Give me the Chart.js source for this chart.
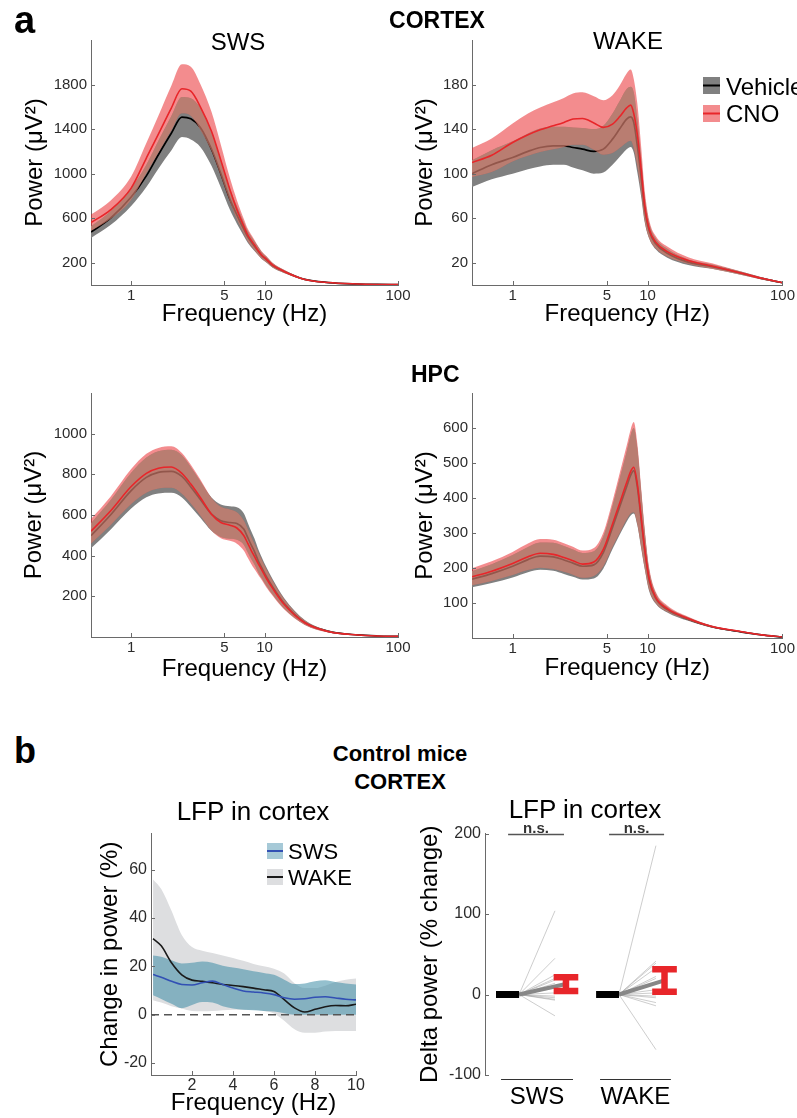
<!DOCTYPE html>
<html><head><meta charset="utf-8">
<script src="https://cdn.jsdelivr.net/npm/chart.js@4.4.1/dist/chart.umd.min.js"></script>
<style>
html,body{margin:0;padding:0;background:#fff;}
body{width:797px;height:1118px;position:relative;overflow:hidden;font-family:"Liberation Sans",Arial,sans-serif;}
#charts{position:absolute;left:0;top:0;width:797px;height:1118px;}
canvas{position:absolute;}
.t{position:absolute;line-height:1;white-space:nowrap;color:#000;}
.c{transform:translateX(-50%);}
</style></head><body>
<div id="charts"></div>
<div class="t" style="left:14px;top:1px;font-size:38px;font-weight:bold">a</div>
<div class="t c" style="left:437px;top:9px;font-size:23px;font-weight:bold">CORTEX</div>
<div class="t c" style="left:238px;top:30px;font-size:24px">SWS</div>
<div class="t c" style="left:628px;top:29px;font-size:24px">WAKE</div>
<div class="t" style="left:411px;top:363px;font-size:23px;font-weight:bold">HPC</div>
<div class="t" style="left:14px;top:733px;font-size:36px;font-weight:bold">b</div>
<div class="t c" style="left:400px;top:743px;font-size:22px;font-weight:bold">Control mice</div>
<div class="t c" style="left:400px;top:771px;font-size:22px;font-weight:bold">CORTEX</div>
<div class="t c" style="left:253px;top:798px;font-size:26px">LFP in cortex</div>
<div class="t c" style="left:585px;top:796px;font-size:26px">LFP in cortex</div>
<script>
// ================= DATA =================
// Panel a: power spectra (frequency grid, Hz)
const freqs = [0.5,0.7,1,1.3,1.6,2,2.4,2.8,3.3,4,4.7,5.5,6.2,7,7.5,7.9,8.4,9,9.5,10.3,11.5,14,20,30,50,70,100];
const freqTicks = [1,5,10,100];

// Cortex SWS
const ctxSwsVeh    = [475,600,790,980,1170,1363,1508,1492,1415,1220,1000,770,630,500,430,391,349,301,265,228,175,121,50,22,9,5,3];
const ctxSwsVehSem = [52,62,80,100,125,155,180,185,175,150,125,95,80,62,53,49,44,37,32,27,20,13,6,3,1,1,0.5];
const ctxSwsCno    = [560,675,870,1140,1355,1589,1762,1740,1600,1380,1120,855,677,526,446,405,360,305,270,232,178,122,50,22,9,5,3];
const ctxSwsCnoSem = [72,82,105,135,165,200,220,220,205,175,140,105,85,65,56,51,45,38,33,28,21,14,6,3,1,1,0.5];
const ctxSwsYTicks = [200,600,1000,1400,1800];

// Cortex WAKE
const ctxWakeVeh    = [100,108,114.5,120,123.5,125,125,123.5,122,120,122,131,140,149,151,146,125,95,69,48.5,37,28.5,20.5,16.5,10.5,6,2];
const ctxWakeVehSem = [12,13,14.5,16,17,17,17,18,19,20,21,23,25,27,27,27,24,17,12,7,5,4,2.5,2,1.5,1,0.5];
const ctxWakeCno    = [110,116.5,128,135,139.5,143,146,149,149.5,145.5,141.5,144.5,151,159,161.5,154,135,102,72.5,50,38.5,30,22,17,10.5,6,2];
const ctxWakeCnoSem = [13,15,17,19,20,21,22,23,23.5,24,24.5,26,28,31,32,31,28,20,14,8,5.5,4.5,3,2.5,1.5,1,0.5];
const ctxWakeYTicks = [20,60,100,140,180];

// HPC SWS
const hpcSwsVeh    = [498,600,720,785,810,815,790,738,676,604,572,563,558,530,487,455,420,372,342,298,246,166,72,28,10,5,3];
const hpcSwsVehSem = [62,72,88,98,104,106,104,98,90,82,80,80,80,77,73,69,64,57,52,46,38,26,12,5,2,1,0.5];
const hpcSwsCno    = [520,620,740,805,830,836,805,752,686,604,563,550,536,498,459,429,396,359,331,289,239,161,70,27,10,5,3];
const hpcSwsCnoSem = [60,70,86,96,100,102,100,95,88,80,77,77,77,74,71,67,62,55,50,44,36,25,11,5,2,1,0.5];
const hpcSwsYTicks = [200,400,600,800,1000];

// HPC WAKE
const hpcWakeVeh    = [168,184,205,224,234,232,223,214,205,209,244,316,374,432,465,478,432,333,255,163,113,81,54,32,17,9,3];
const hpcWakeVehSem = [23,27,32,36,39,40,40,39,38,39,46,62,80,100,115,122,110,80,55,30,15,8,5,3,2,1,0.5];
const hpcWakeCno    = [175,191,213,232,242,239,230,221,211,217,253,326,384,444,476,488,440,339,259,168,116,84,56,33,18,9,3];
const hpcWakeCnoSem = [24,28,33,38,41,42,41,40,39,40,48,65,85,105,120,129,115,82,57,31,16,9,5,3,2,1,0.5];
const hpcWakeYTicks = [100,200,300,400,500,600];

// Panel b left: change in power (%)
const freqB     = [0.1,0.5,1,1.5,2,2.5,3,3.5,4,4.5,5,5.5,6,6.5,7,7.5,8,8.5,9,9.5,10];
const wakeMean  = [31.5,28.5,21.5,16.5,14.3,13.8,13.2,12.5,12.1,11.6,11,10.3,9.6,6.2,2.8,1.1,2.2,3.3,3.8,3.7,4.3];
const wakeUpper = [56,52,43,33,28,26.5,25.5,24.5,23.5,22.3,21,20,19,17,13,11,11,12,13.5,14.5,15];
const wakeLower = [6,5,3.5,2.5,1.5,1.4,1.5,1.8,2,2,2,1.5,0.5,-2.5,-6,-7.5,-7.5,-7,-6.8,-6.8,-6.8];
const swsMean   = [16.6,15.5,13.8,12.5,12.3,13.2,13.9,12.5,11,9.8,9.4,9.0,8.3,7.0,6.4,6.6,7.2,7.4,6.9,6.4,6.1];
const swsUpper  = [24.5,24,22.5,21.2,21.5,22,21.5,20.3,19.5,18.8,18,17.3,16.5,14.5,12.7,12.9,13.8,14.2,13.5,12.9,12.5];
const swsLower  = [8,6.5,4.5,2.7,4,5.2,5,3.5,2.5,2,1.8,1.5,1.3,0.6,0,0,0,0,0,0,0];
const bXTicks = [2,4,6,8,10];
const bYTicks = [-20,0,20,40,60];

// Panel b right: delta power (% change) per mouse
const groups     = ['SWS','WAKE'];
const swsDelta   = [104,45,24.5,20,18,14,8,2,-2,-4,-6,-7,-26.5];
const wakeDelta  = [185,41.5,39,33,22.5,20,6,2,-2,-4,-10,-14,-68.5];
const groupMean  = [13,17.5];
const groupErr   = [8.5,14];
const deltaYTicks = [-100,0,100,200];

// ================= STYLE / LAYOUT =================
const FONT = '"Liberation Sans", Arial, sans-serif';
Chart.defaults.font.family = FONT;
const AX = '#6a6a6a', TXT = '#2b2b2b', RED = '#e8262a';
const VEH_BAND = 'rgb(128,128,128)';
const CNO_BAND = 'rgba(231,25,29,0.5)';
const OVL_TINT = 'rgba(193,198,165,0.4)';
const band = {pointRadius:0, borderColor:'transparent', borderWidth:1, tension:0};

function mk(box){
  const c = document.createElement('canvas');
  c.width = box.w; c.height = box.h;
  c.style.left = box.x+'px'; c.style.top = box.y+'px';
  c.style.width = box.w+'px'; c.style.height = box.h+'px';
  document.getElementById('charts').appendChild(c);
  return c;
}

const inTicks = {
  id:'inTicks',
  afterDatasetsDraw(chart){
    const {ctx, chartArea:a, scales} = chart;
    ctx.save(); ctx.strokeStyle = AX; ctx.lineWidth = 1;
    const len = 4;
    if (scales.x && scales.x.options.display !== false) {
      for (const t of scales.x.ticks) {
        const px = Math.round(scales.x.getPixelForValue(t.value)) + 0.5;
        ctx.beginPath(); ctx.moveTo(px, a.bottom); ctx.lineTo(px, a.bottom - len); ctx.stroke();
      }
    }
    for (const t of scales.y.ticks) {
      const py = Math.round(scales.y.getPixelForValue(t.value)) + 0.5;
      ctx.beginPath(); ctx.moveTo(a.left, py); ctx.lineTo(a.left + len, py); ctx.stroke();
    }
    ctx.restore();
  }
};

function legendPlugin(box, items, size){
  return {id:'lg', afterDraw(chart){
    const ctx = chart.ctx; ctx.save();
    for (const it of items){
      const x = it.x - box.x, y = it.y - box.y;
      ctx.fillStyle = it.fill; ctx.fillRect(x, y, it.w, it.h);
      ctx.strokeStyle = it.line; ctx.lineWidth = 2;
      ctx.beginPath(); ctx.moveTo(x, y + it.h/2); ctx.lineTo(x + it.w, y + it.h/2); ctx.stroke();
      ctx.fillStyle = '#000'; ctx.font = size + 'px ' + FONT; ctx.textBaseline = 'alphabetic';
      ctx.fillText(it.label, it.tx - box.x, it.base - box.y);
    }
    ctx.restore();
  }};
}

function yScale(box, area, min, max, ticks, title, tickSize, titlePad){
  return {
    type:'linear', min, max,
    afterBuildTicks: s => { s.ticks = ticks.map(v => ({value:v})); },
    afterFit: s => { s.width = area.l - box.x; },
    grid:{display:false, drawTicks:false},
    border:{display:true, color:AX, width:1},
    ticks:{font:{size:tickSize}, color:TXT, padding:4, autoSkip:false, callback: v => String(v)},
    title:{display:true, text:title, color:'#000', font:{size:24}, padding:{top:titlePad, bottom:0}}
  };
}

function spectrum(box, area, yMax, yTicks, veh, vehSem, cno, cnoSem, xTitlePad, yTitlePad, plugins){
  const c = mk(box);
  const vU = veh.map((m, i) => m + vehSem[i]), vL = veh.map((m, i) => m - vehSem[i]);
  const cU = cno.map((m, i) => m + cnoSem[i]), cL = cno.map((m, i) => m - cnoSem[i]);
  const oU = vU.map((v, i) => Math.min(v, cU[i]));
  const oL = vL.map((v, i) => Math.min(Math.max(v, cL[i]), oU[i]));
  const pts = arr => freqs.map((f, i) => ({x:f, y:arr[i]}));
  return new Chart(c, {
    type:'line',
    data:{datasets:[
      {data:pts(vU), fill:'+1', backgroundColor:VEH_BAND, ...band, order:8},
      {data:pts(vL), fill:false, ...band, order:7},
      {data:pts(veh), fill:false, borderColor:'#000', borderWidth:1.7, pointRadius:0, order:6},
      {data:pts(cU), fill:'+1', backgroundColor:CNO_BAND, ...band, order:5},
      {data:pts(cL), fill:false, ...band, order:4},
      {data:pts(oU), fill:'+1', backgroundColor:OVL_TINT, ...band, order:3},
      {data:pts(oL), fill:false, ...band, order:2},
      {data:pts(cno), fill:false, borderColor:RED, borderWidth:1.6, pointRadius:0, order:1}
    ]},
    options:{
      responsive:false, animation:false, devicePixelRatio:1,
      layout:{padding:{top:area.t - box.y, right:box.x + box.w - area.r, left:0, bottom:0}},
      elements:{line:{cubicInterpolationMode:'monotone'}},
      plugins:{legend:{display:false}, tooltip:{enabled:false}},
      scales:{
        x:{type:'logarithmic', min:0.5, max:100,
          afterBuildTicks: s => { s.ticks = freqTicks.map(v => ({value:v})); },
          afterFit: s => { s.height = box.y + box.h - area.b; },
          grid:{display:false, drawTicks:false},
          border:{display:true, color:AX, width:1},
          ticks:{font:{size:15}, color:TXT, padding:2, maxRotation:0, autoSkip:false, callback: v => String(v)},
          title:{display:true, text:'Frequency (Hz)', color:'#000', font:{size:24}, padding:{top:0, bottom:xTitlePad}}
        },
        y: yScale(box, area, 0, yMax, yTicks, 'Power (\u03BCV\u00B2)', 15, yTitlePad)
      }
    },
    plugins:[inTicks].concat(plugins || [])
  });
}

// ---- Panel a ----
const b1 = {x:0, y:0, w:420, h:340},   a1 = {l:91, t:40, r:398, b:285};
const b2 = {x:390, y:0, w:407, h:340}, a2 = {l:472, t:40, r:783, b:285};
const b3 = {x:0, y:355, w:420, h:345}, a3 = {l:91, t:393, r:398, b:637};
const b4 = {x:390, y:355, w:407, h:345}, a4 = {l:472, t:393, r:783, b:638};

spectrum(b1, a1, 2200, ctxSwsYTicks, ctxSwsVeh, ctxSwsVehSem, ctxSwsCno, ctxSwsCnoSem, 11.6, 20.6);
spectrum(b2, a2, 220, ctxWakeYTicks, ctxWakeVeh, ctxWakeVehSem, ctxWakeCno, ctxWakeCnoSem, 11.6, 20.6, [
  legendPlugin(b2, [
    {x:703, y:77, w:17, h:17, fill:VEH_BAND, line:'#000', label:'Vehicle', tx:726, base:95},
    {x:703, y:105, w:17, h:17, fill:'rgb(243,140,142)', line:RED, label:'CNO', tx:726, base:122}
  ], 24)
]);
spectrum(b3, a3, 1200, hpcSwsYTicks, hpcSwsVeh, hpcSwsVehSem, hpcSwsCno, hpcSwsCnoSem, 16.6, 19.6);
spectrum(b4, a4, 700, hpcWakeYTicks, hpcWakeVeh, hpcWakeVehSem, hpcWakeCno, hpcWakeCnoSem, 17.6, 20.6);

// ---- Panel b left ----
(function(){
  const box = {x:70, y:820, w:350, h:298}, area = {l:151, t:830, r:356, b:1075};
  const xy = arr => freqB.map((f, i) => ({x:f, y:arr[i]}));
  new Chart(mk(box), {
    type:'line',
    data:{datasets:[
      {data:xy(wakeUpper), fill:'+1', backgroundColor:'rgb(221,222,224)', ...band, order:7},
      {data:xy(wakeLower), fill:false, ...band, order:6},
      {data:xy(swsUpper), fill:'+1', backgroundColor:'rgba(60,140,165,0.55)', ...band, order:5},
      {data:xy(swsLower), fill:false, ...band, order:4},
      {data:[{x:0,y:0},{x:10,y:0}], fill:false, borderColor:'#555', borderWidth:1.5, borderDash:[8,5], pointRadius:0, order:3},
      {data:xy(wakeMean), fill:false, borderColor:'#1a1a1a', borderWidth:1.6, pointRadius:0, order:2},
      {data:xy(swsMean), fill:false, borderColor:'rgb(50,80,180)', borderWidth:1.6, pointRadius:0, order:1}
    ]},
    options:{
      responsive:false, animation:false, devicePixelRatio:1,
      layout:{padding:{top:area.t - box.y, right:box.x + box.w - area.r, left:0, bottom:0}},
      elements:{line:{cubicInterpolationMode:'monotone'}},
      plugins:{legend:{display:false}, tooltip:{enabled:false}},
      scales:{
        x:{type:'linear', min:0, max:10,
          afterBuildTicks: s => { s.ticks = bXTicks.map(v => ({value:v})); },
          afterFit: s => { s.height = box.y + box.h - area.b; },
          grid:{display:false, drawTicks:false},
          border:{display:true, color:AX, width:1},
          ticks:{font:{size:16}, color:TXT, padding:1, maxRotation:0, autoSkip:false, callback: v => String(v)},
          title:{display:true, text:'Frequency (Hz)', color:'#000', font:{size:24}, padding:{top:0, bottom:0}}
        },
        y: yScale(box, area, -25, 75, bYTicks, 'Change in power (%)', 16, 25.6)
      }
    },
    plugins:[inTicks, legendPlugin(box, [
      {x:267, y:843, w:16, h:16, fill:'rgb(166,201,215)', line:'rgb(50,80,180)', label:'SWS', tx:288, base:859},
      {x:267, y:869, w:16, h:16, fill:'rgb(221,222,224)', line:'#1a1a1a', label:'WAKE', tx:288, base:885}
    ], 22)]
  });
})();

// ---- Panel b right ----
(function(){
  const box = {x:400, y:820, w:397, h:298}, area = {l:485, t:831, r:705, b:1075};
  // horizontal plotting positions (x scale 0..100), layout only
  const P = {
    vehBar:[[5,15.5],[50.5,60.9]],
    lineStart:[15.5,60.9],
    lineEnd:[31.8,77.7],
    errX:[36.8,81.6],
    capHalf:5.6,
    catLine:[[7.3,40],[52.3,84.5]],
    nsLine:[[10.5,35.9],[56.4,81.4]]
  };
  const deltas = [swsDelta, wakeDelta];
  const indiv = [], vehBars = [], meanLines = [], errBars = [];
  deltas.forEach((arr, g) => {
    arr.forEach(v => { indiv.push({x:P.lineStart[g], y:0}, {x:P.lineEnd[g], y:v}, {x:P.lineEnd[g], y:null}); });
    vehBars.push({x:P.vehBar[g][0], y:0}, {x:P.vehBar[g][1], y:0}, {x:P.vehBar[g][1], y:null});
    meanLines.push({x:P.lineStart[g], y:0}, {x:P.errX[g], y:groupMean[g]}, {x:P.errX[g], y:null});
    const hi = groupMean[g] + groupErr[g], lo = groupMean[g] - groupErr[g], cx = P.errX[g], h = P.capHalf;
    errBars.push({x:cx-h, y:hi}, {x:cx+h, y:hi}, {x:cx, y:null},
                 {x:cx, y:hi}, {x:cx, y:lo}, {x:cx, y:null},
                 {x:cx-h, y:lo}, {x:cx+h, y:lo}, {x:cx+h, y:null});
  });
  const annot = {
    id:'annot6',
    afterDraw(chart){
      const {ctx, scales:{x, y}, chartArea:a} = chart;
      ctx.save();
      groups.forEach((name, g) => {
        const ny = Math.round(y.getPixelForValue(200)) + 0.5;
        ctx.strokeStyle = '#555'; ctx.lineWidth = 1.5;
        ctx.beginPath(); ctx.moveTo(x.getPixelForValue(P.nsLine[g][0]), ny); ctx.lineTo(x.getPixelForValue(P.nsLine[g][1]), ny); ctx.stroke();
        ctx.fillStyle = '#333'; ctx.font = 'bold 15px ' + FONT; ctx.textAlign = 'center'; ctx.textBaseline = 'alphabetic';
        ctx.fillText('n.s.', x.getPixelForValue((P.nsLine[g][0] + P.nsLine[g][1]) / 2), ny - 1.5);
        const cy = a.bottom + 4.5;
        ctx.strokeStyle = '#333'; ctx.lineWidth = 1;
        ctx.beginPath(); ctx.moveTo(x.getPixelForValue(P.catLine[g][0]), cy); ctx.lineTo(x.getPixelForValue(P.catLine[g][1]), cy); ctx.stroke();
        ctx.fillStyle = '#000'; ctx.font = '24px ' + FONT;
        ctx.fillText(name, x.getPixelForValue((P.catLine[g][0] + P.catLine[g][1]) / 2), a.bottom + 29);
      });
      ctx.restore();
    }
  };
  new Chart(mk(box), {
    type:'line',
    data:{datasets:[
      {data:indiv, borderColor:'rgba(150,150,150,0.6)', borderWidth:0.8, pointRadius:0, spanGaps:false, order:4},
      {data:meanLines, borderColor:'rgb(135,135,135)', borderWidth:4, pointRadius:0, spanGaps:false, order:3},
      {data:vehBars, borderColor:'#000', borderWidth:7, pointRadius:0, spanGaps:false, order:2},
      {data:errBars, borderColor:RED, borderWidth:6.5, pointRadius:0, spanGaps:false, order:1, borderCapStyle:'butt'}
    ]},
    options:{
      responsive:false, animation:false, devicePixelRatio:1,
      layout:{padding:{top:area.t - box.y, right:box.x + box.w - area.r, left:0, bottom:box.y + box.h - area.b}},
      elements:{line:{tension:0}},
      plugins:{legend:{display:false}, tooltip:{enabled:false}},
      scales:{
        x:{type:'linear', min:0, max:100, display:false},
        y: yScale(box, area, -100, 200, deltaYTicks, 'Delta power (% change)', 16, 15.6)
      }
    },
    plugins:[inTicks, annot]
  });
})();
</script>
</body></html>
